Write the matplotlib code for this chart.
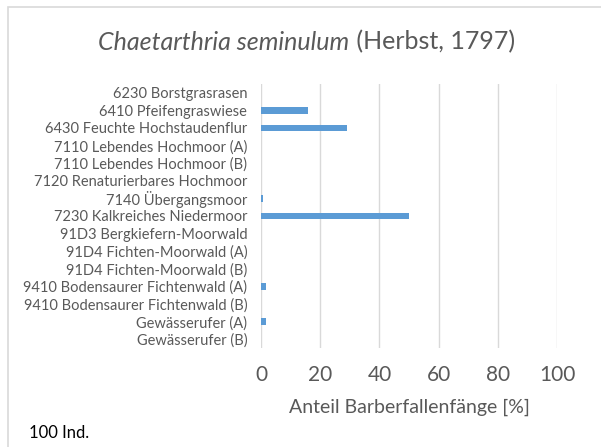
import numpy as np
import matplotlib.pyplot as plt
from matplotlib.patches import Rectangle

plt.rcParams['font.family'] = ['Lato', 'DejaVu Sans']

habitats = [
    '6230 Borstgrasrasen',
    '6410 Pfeifengraswiese',
    '6430 Feuchte Hochstaudenflur',
    '7110 Lebendes Hochmoor (A)',
    '7110 Lebendes Hochmoor (B)',
    '7120 Renaturierbares Hochmoor',
    '7140 Übergangsmoor',
    '7230 Kalkreiches Niedermoor',
    '91D3 Bergkiefern-Moorwald',
    '91D4 Fichten-Moorwald (A)',
    '91D4 Fichten-Moorwald (B)',
    '9410 Bodensaurer Fichtenwald (A)',
    '9410 Bodensaurer Fichtenwald (B)',
    'Gewässerufer (A)',
    'Gewässerufer (B)',
]
anteil = [0, 16, 29, 0, 0, 0, 0.8, 50, 0, 0, 0, 1.7, 0, 1.7, 0]
x_ticks = [0, 20, 40, 60, 80, 100]

grey = '#595959'

fig = plt.figure(figsize=(6.01, 4.47), dpi=100)
ax = fig.add_axes([0.4343, 0.2215, 0.4925, 0.5906])

y = np.arange(len(habitats))
ax.barh(y, anteil, height=0.38, color='#5B9BD5', zorder=3)
ax.set_ylim(len(habitats) - 0.5, -0.5)
ax.set_xlim(0, 100)
ax.set_yticks(y)
ax.set_yticklabels(habitats, fontsize=10.5, color=grey)
ax.set_xticks(x_ticks)
ax.set_xticklabels([str(v) for v in x_ticks], fontsize=15, color=grey)
ax.tick_params(length=0)
ax.tick_params(axis='y', pad=10)
ax.tick_params(axis='x', pad=12)
ax.grid(axis='x', color='#D9D9D9', linewidth=1, zorder=0)
for s in ax.spines.values():
    s.set_visible(False)

ax.set_xlabel('Anteil Barberfallenfänge [%]', fontsize=14, color=grey, labelpad=10)

# title: italic species name + plain author, centred together
t1 = fig.text(0, 0.906, 'Chaetarthria seminulum', fontsize=18, color=grey,
              style='italic', ha='left', va='center')
t2 = fig.text(0, 0.906, ' (Herbst, 1797)', fontsize=18, color=grey,
              ha='left', va='center')
r = fig.canvas.get_renderer()
w1 = t1.get_window_extent(r).width / fig.bbox.width
w2 = t2.get_window_extent(r).width / fig.bbox.width
x0 = 0.51 - (w1 + w2) / 2
t1.set_x(x0)
t2.set_x(x0 + w1)

fig.text(0.048, 0.031, '100 Ind.', fontsize=12, color='black', ha='left', va='center')

fig.patches.append(Rectangle((0.0133, -0.05), 1.05, 1.034, transform=fig.transFigure,
                             fill=False, edgecolor='#D9D9D9', linewidth=1.2))

fig.savefig('out.png', dpi=100)
